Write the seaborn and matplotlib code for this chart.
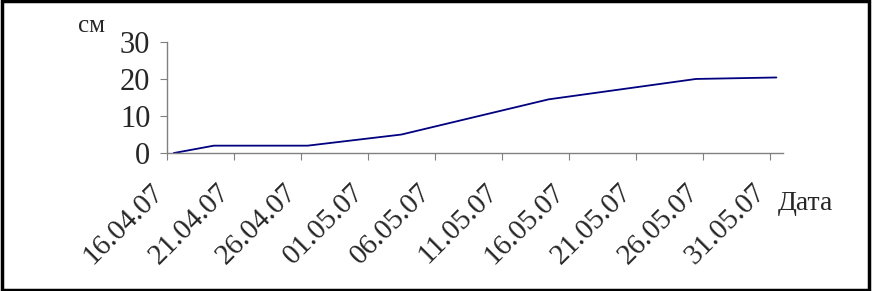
import matplotlib
matplotlib.use("Agg")
import matplotlib.pyplot as plt
import matplotlib.dates as mdates
import matplotlib.transforms as mtransforms
from matplotlib.patches import Rectangle
import pandas as pd
import seaborn as sns

# growth measurements (cm) by date
dates = ["16.04.2007", "19.04.2007", "26.04.2007", "03.05.2007",
         "14.05.2007", "25.05.2007", "31.05.2007"]
height_cm = [0, 2, 2, 5, 14.5, 20, 20.4]

tick_dates = pd.date_range("2007-04-16", "2007-05-31", freq="5D")
y_ticks = [0, 10, 20, 30]

df = pd.DataFrame({
    "date": pd.to_datetime(dates, format="%d.%m.%Y") + pd.Timedelta(hours=12),
    "cm": height_cm,
})

sns.set_style("white")
plt.rcParams["font.family"] = ["Liberation Serif", "DejaVu Serif"]

fig = plt.figure(figsize=(8.73, 2.91), dpi=100)
ax = fig.add_axes([0.1913, 0.474, 0.7057, 0.382])

sns.lineplot(data=df, x="date", y="cm", ax=ax, color="#000080", linewidth=1.3)

ax.set_xlim(pd.Timestamp("2007-04-16"), pd.Timestamp("2007-06-01"))
ax.set_ylim(0, 30)
ax.set_yticks(y_ticks)
ax.set_xticks(tick_dates)
ax.xaxis.set_major_formatter(mdates.DateFormatter("%d.%m.%y"))
ax.tick_params(axis="both", length=5, color="#808080",
               direction="out", bottom=True, left=True)
ax.tick_params(axis="y", labelsize=22, pad=7)
ax.tick_params(axis="x", labelsize=21, pad=20)

# shift the slanted date labels a little to the left
shift = mtransforms.ScaledTranslation(-0.08, 0, fig.dpi_scale_trans)
for lbl in ax.get_xticklabels():
    lbl.set_rotation(45)
    lbl.set_ha("right")
    lbl.set_va("center")
    lbl.set_rotation_mode("anchor")
    lbl.set_transform(lbl.get_transform() + shift)

for s in ["top", "right"]:
    ax.spines[s].set_visible(False)
for s in ["left", "bottom"]:
    ax.spines[s].set_color("#808080")
    ax.spines[s].set_linewidth(1)

ax.set_xlabel("")
ax.set_ylabel("")
fig.text(0.089, 0.91, "см", fontsize=18, ha="left", va="center")
fig.text(0.891, 0.30, "Дата", fontsize=20, ha="left", va="center")

fig.patches.append(Rectangle((0.002, 0.005), 0.993, 0.99, transform=fig.transFigure,
                             fill=False, edgecolor="black", linewidth=2.5))

fig.savefig("out.png", dpi=100)
